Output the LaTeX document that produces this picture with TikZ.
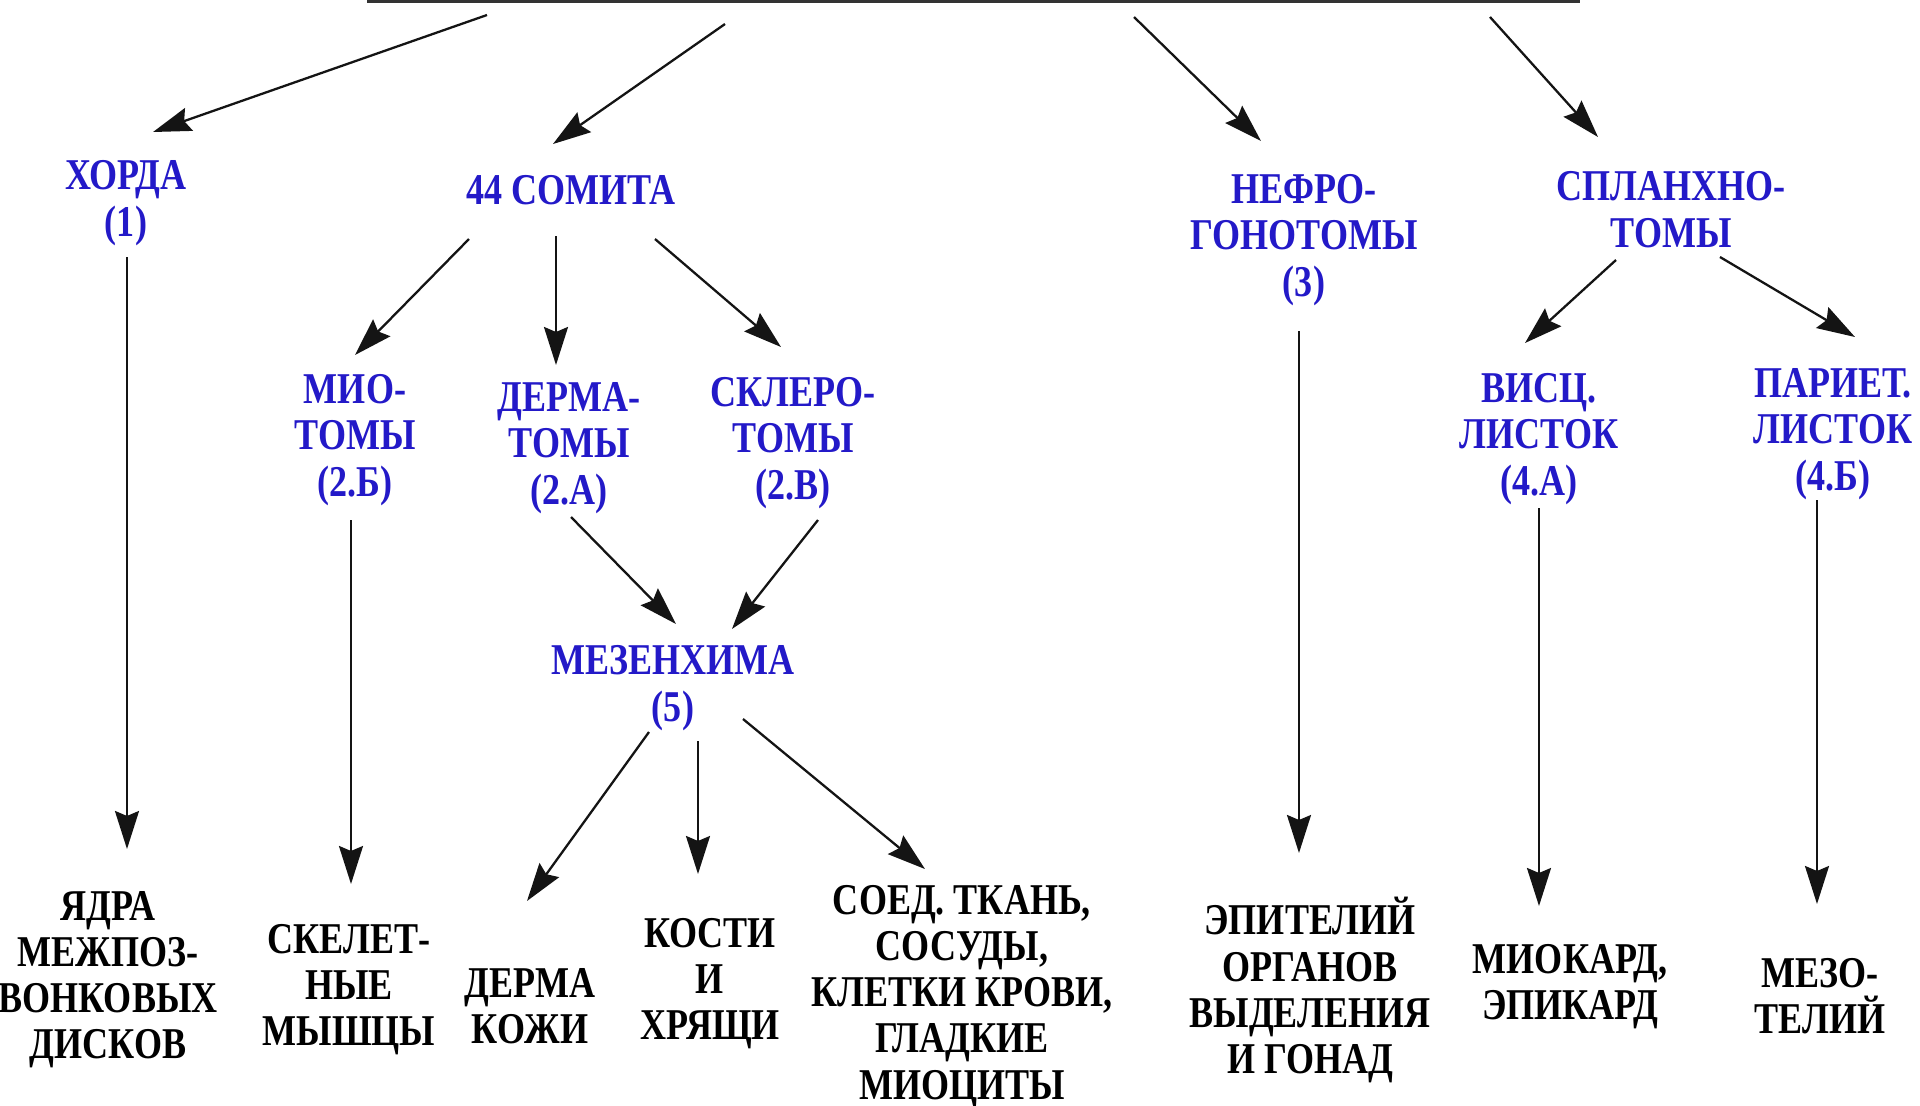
\documentclass[tikz,border=0pt]{standalone}
\usepackage{fontspec}
\setmainfont{Liberation Serif}[FakeStretch=0.82]
\usetikzlibrary{arrows.meta}
\definecolor{embblue}{RGB}{35,25,200}
\definecolor{embline}{RGB}{20,20,20}
\tikzset{
  embStage/.style={text=embblue, align=center, inner sep=0pt,
                   font=\bfseries\fontsize{12.5}{13.3}\selectfont},
  embTissue/.style={text=black, align=center, inner sep=0pt,
                    font=\bfseries\fontsize{12.5}{13.1}\selectfont},
  embArrow/.style={-{Stealth[length=3.8mm,width=2.4mm,inset=0.5mm]},
                   line width=0.65pt, draw=embline},
  embBar/.style={line width=0.9pt, draw=black!80}
}

\begin{document}
\begin{tikzpicture}[x=0.01cm,y=-0.01cm]
  \useasboundingbox (0,0) rectangle (1920,1105);
  \fill[white] (0,0) rectangle (1920,1105);

  % top bar and the four free starts under it
  \coordinate (barL) at (367,1.5);
  \coordinate (barR) at (1580,1.5);
  \coordinate (fromA) at (487,15);
  \coordinate (fromB) at (725,24);
  \coordinate (fromC) at (1134,17);
  \coordinate (fromD) at (1490,17);
  \draw[embBar] (barL) -- (barR);

  % derivatives (blue)
  \node[embStage] (chorda) at (126,203) {ХОРДА\\(1)};
  \node[embStage] (somites) at (571,190) {44 СОМИТА};
  \node[embStage] (nephro) at (1304,240) {НЕФРО-\\ГОНОТОМЫ\\(3)};
  \node[embStage] (splanch) at (1671,210) {СПЛАНХНО-\\ТОМЫ};
  \node[embStage] (myo) at (355,440) {МИО-\\ТОМЫ\\(2.Б)};
  \node[embStage] (derma) at (569,448) {ДЕРМА-\\ТОМЫ\\(2.А)};
  \node[embStage] (sclero) at (793,443) {СКЛЕРО-\\ТОМЫ\\(2.В)};
  \node[embStage] (mesench) at (673,688) {МЕЗЕНХИМА\\(5)};
  \node[embStage] (visc) at (1539,439) {ВИСЦ.\\ЛИСТОК\\(4.А)};
  \node[embStage] (pariet) at (1833,434) {ПАРИЕТ.\\ЛИСТОК\\(4.Б)};

  % tissues (black)
  \node[embTissue] (disks) at (108,980) {ЯДРА\\МЕЖПОЗ-\\ВОНКОВЫХ\\ДИСКОВ};
  \node[embTissue] (skel) at (349,990) {СКЕЛЕТ-\\НЫЕ\\МЫШЦЫ};
  \node[embTissue] (skin) at (530,1006) {ДЕРМА\\КОЖИ};
  \node[embTissue] (bones) at (710,984) {КОСТИ\\И\\ХРЯЩИ};
  \node[embTissue] (conn) at (962,997) {СОЕД. ТКАНЬ,\\СОСУДЫ,\\КЛЕТКИ КРОВИ,\\ГЛАДКИЕ\\МИОЦИТЫ};
  \node[embTissue] (epith) at (1310,990) {ЭПИТЕЛИЙ\\ОРГАНОВ\\ВЫДЕЛЕНИЯ\\И ГОНАД};
  \node[embTissue] (myocard) at (1570,987) {МИОКАРД,\\ЭПИКАРД};
  \node[embTissue] (mesoth) at (1820,996) {МЕЗО-\\ТЕЛИЙ};

  \draw[embArrow] (fromA) -- ([shift={(27,-71)}]chorda.center);
  \draw[embArrow] (fromB) -- ([shift={(-18,-46)}]somites.center);
  \draw[embArrow] (fromC) -- ([shift={(-43,-99)}]nephro.center);
  \draw[embArrow] (fromD) -- ([shift={(-73,-73)}]splanch.center);

  \draw[embArrow] ([shift={(1,54)}]chorda.center) -- ([shift={(19,-131)}]disks.center);
  \draw[embArrow] ([shift={(-102,49)}]somites.center) -- ([shift={(0,-85)}]myo.center);
  \draw[embArrow] ([shift={(-15,46)}]somites.center) -- ([shift={(-13,-83)}]derma.center);
  \draw[embArrow] ([shift={(84,49)}]somites.center) -- ([shift={(-12,-96)}]sclero.center);
  \draw[embArrow] ([shift={(-4,80)}]myo.center) -- ([shift={(2,-106)}]skel.center);
  \draw[embArrow] ([shift={(2,69)}]derma.center) -- ([shift={(3,-64)}]mesench.center);
  \draw[embArrow] ([shift={(25,77)}]sclero.center) -- ([shift={(59,-59)}]mesench.center);
  \draw[embArrow] ([shift={(-24,44)}]mesench.center) -- ([shift={(-3,-105)}]skin.center);
  \draw[embArrow] ([shift={(25,53)}]mesench.center) -- ([shift={(-12,-110)}]bones.center);
  \draw[embArrow] ([shift={(70,31)}]mesench.center) -- ([shift={(-37,-128)}]conn.center);
  \draw[embArrow] ([shift={(-5,91)}]nephro.center) -- ([shift={(-11,-137)}]epith.center);
  \draw[embArrow] ([shift={(-55,50)}]splanch.center) -- ([shift={(-14,-96)}]visc.center);
  \draw[embArrow] ([shift={(49,47)}]splanch.center) -- ([shift={(22,-97)}]pariet.center);
  \draw[embArrow] ([shift={(0,69)}]visc.center) -- ([shift={(-31,-81)}]myocard.center);
  \draw[embArrow] ([shift={(-16,66)}]pariet.center) -- ([shift={(-3,-92)}]mesoth.center);
\end{tikzpicture}
\end{document}
